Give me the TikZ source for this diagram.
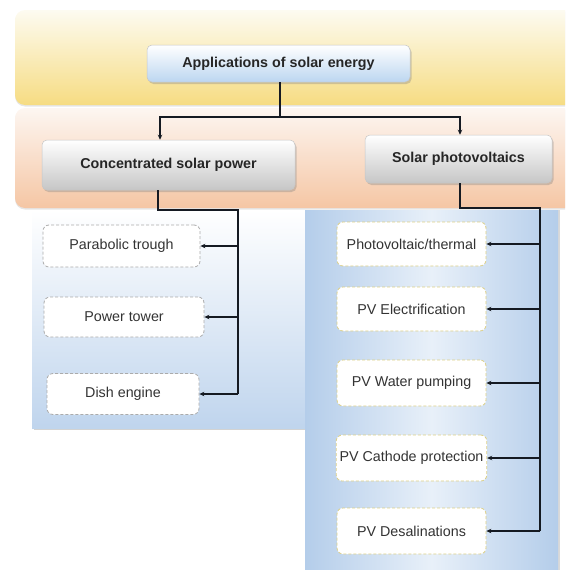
\documentclass[tikz,border=0pt]{standalone}
\usepackage{fontspec}
\setmainfont{Liberation Sans}
\usetikzlibrary{shadows,arrows.meta}
\definecolor{yelbot}{HTML}{F6DC82}
\definecolor{yeltop}{HTML}{FDFBF1}
\definecolor{orgbot}{HTML}{F5C6A4}
\definecolor{orgtop}{HTML}{FDF6F1}
\definecolor{pblue}{HTML}{B4CDEA}
\definecolor{pbluel}{HTML}{E8F0F9}
\definecolor{nblue}{HTML}{BCD6F0}
\definecolor{ngray}{HTML}{C6C6C6}
\definecolor{dgray}{HTML}{ABABAB}
\definecolor{dyel}{HTML}{DCCF86}
\definecolor{lnk}{HTML}{151A22}
\begin{document}
\begin{tikzpicture}[x=1pt,y=-1pt,
  font=\fontsize{14.3}{16}\selectfont,
  band/.style={rounded corners=10pt},
  shad/.style={drop shadow={opacity=0.35,shadow xshift=1.5pt,shadow yshift=-2pt}},
  headbox/.style={draw=gray!45,line width=0.5pt,rounded corners=5pt,shad,
    font=\fontsize{14.3}{16}\selectfont\bfseries,text=black!85},
  topbox/.style={headbox,top color=white,bottom color=nblue},
  graybox/.style={headbox,top color=white,bottom color=ngray},
  leafL/.style={draw=dgray,dash pattern=on 3pt off 2pt,line width=0.8pt,fill=white,
    rounded corners=6pt,text=black!80},
  leafR/.style={draw=dyel,dash pattern=on 3pt off 2pt,line width=0.8pt,fill=white,
    rounded corners=6pt,text=black!80},
  link/.style={draw=lnk,line width=1.6pt},
  arr/.style={link,-{Stealth[length=5pt,width=4.5pt]}}]
\useasboundingbox (0,0) rectangle (565,570);
\clip (0,0) rectangle (565,570);
% background bands and panels
\path[band,top color=yeltop,bottom color=yelbot,drop shadow={opacity=0.2,shadow xshift=0pt,shadow yshift=-1.5pt}] (15,10) rectangle (580,105);
\path[band,top color=orgtop,bottom color=orgbot,drop shadow={opacity=0.2,shadow xshift=0pt,shadow yshift=-1.5pt}] (15,108) rectangle (580,208);
\path[top color=white,bottom color=pblue!85,drop shadow={opacity=0.35,shadow xshift=2pt,shadow yshift=-2pt}] (32,210) rectangle (305,428);
\path[left color=pblue,right color=pblue,middle color=pbluel,drop shadow={opacity=0.3,shadow xshift=2pt,shadow yshift=0pt}] (305,210) rectangle (558,580);
% nodes
\node[topbox,minimum width=263,minimum height=37] (top) at (278.5,63.5) {Applications of solar energy};
\node[graybox,minimum width=253,minimum height=50] (csp) at (168.5,165) {Concentrated solar power};
\node[graybox,minimum width=187,minimum height=48] (spv) at (458.5,159) {Solar photovoltaics};
\node[leafL,minimum width=157,minimum height=42] (pt) at (121.5,246) {Parabolic trough};
\node[leafL,minimum width=160,minimum height=40] (tow) at (124,317) {Power tower};
\node[leafL,minimum width=152,minimum height=41] (dish) at (123,394) {Dish engine};
\node[leafR,minimum width=149,minimum height=44] (pvt) at (411.5,244) {Photovoltaic/thermal};
\node[leafR,minimum width=149,minimum height=44] (pve) at (411.5,309) {PV Electrification};
\node[leafR,minimum width=149,minimum height=46] (pvw) at (411.5,383) {PV Water pumping};
\node[leafR,minimum width=149,minimum height=46] (pvc) at (411.5,458) {PV Cathode protection};
\node[leafR,minimum width=149,minimum height=46] (pvd) at (411.5,531) {PV Desalinations};
% junction coordinates
\coordinate (j0) at (280,117);
\coordinate (jL) at (238,210);
\coordinate (jR) at (540,208);
% connectors
\draw[link] (top.south -| j0) -- (j0);
\draw[arr] (j0) -| ([xshift=-8.5pt]csp.north);
\draw[arr] (j0) -| ([xshift=1.5pt]spv.north);
\draw[link] ([xshift=-10.5pt]csp.south) |- (jL) -- (jL |- dish.east);
\draw[link] ([xshift=1.5pt]spv.south) |- (jR) -- (jR |- pvd.east);
\foreach \n in {pt,tow,dish}{\draw[arr] (jL |- \n.east) -- (\n.east);}
\foreach \n in {pvt,pve,pvw,pvc,pvd}{\draw[arr] (jR |- \n.east) -- (\n.east);}
\end{tikzpicture}
\end{document}
